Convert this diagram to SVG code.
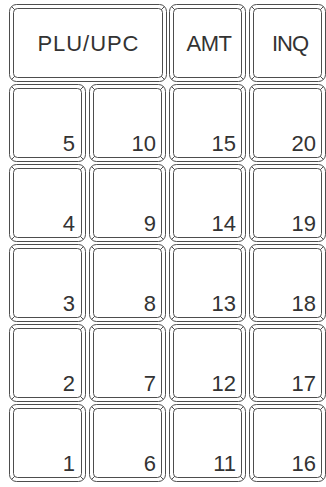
<svg xmlns="http://www.w3.org/2000/svg" xmlns:xlink="http://www.w3.org/1999/xlink" width="326" height="487" viewBox="0 0 326 487">
<style>
.k{fill:#ffffff;stroke:#4d4d4d;stroke-width:1}
.t{font-family:"Liberation Sans",Arial,sans-serif;font-size:22px;fill:#333333}
.c{text-anchor:middle}
.n{text-anchor:end}
</style>
<defs>
<g id="key">
<rect class="k" x="0.5" y="0.5" width="76" height="77" rx="7"/>
<rect class="k" x="4.5" y="4.5" width="68" height="69" rx="4"/>
<path class="k" fill="none" d="M2.5,2.5L5.7,5.7M74.5,2.5L71.3,5.7M2.5,75.5L5.7,72.3M74.5,75.5L71.3,72.3"/>
</g>
<g id="wkey">
<rect class="k" x="0.5" y="0.5" width="157" height="77" rx="7"/>
<rect class="k" x="4.5" y="4.5" width="149" height="69" rx="4"/>
<path class="k" fill="none" d="M2.5,2.5L5.7,5.7M155.5,2.5L152.3,5.7M2.5,75.5L5.7,72.3M155.5,75.5L152.3,72.3"/>
</g>
</defs>
<g id="connectors"/>
<g id="k-plu"><use xlink:href="#wkey" x="9" y="4"/><text class="t c" x="88" y="51" font-size="23" textLength="101">PLU/UPC</text></g>
<g id="k-amt"><use xlink:href="#key" x="169" y="4"/><text class="t c" x="209" y="51" letter-spacing="-0.5">AMT</text></g>
<g id="k-inq"><use xlink:href="#key" x="249" y="4"/><text class="t c" x="290" y="51" letter-spacing="-1">INQ</text></g>
<g id="k5"><use xlink:href="#key" x="9" y="84"/><text class="t n" x="75" y="151">5</text></g>
<g id="k10"><use xlink:href="#key" x="89" y="84"/><text class="t n" x="156" y="151">10</text></g>
<g id="k15"><use xlink:href="#key" x="169" y="84"/><text class="t n" x="236" y="151">15</text></g>
<g id="k20"><use xlink:href="#key" x="249" y="84"/><text class="t n" x="316" y="151">20</text></g>
<g id="k4"><use xlink:href="#key" x="9" y="164"/><text class="t n" x="75" y="231">4</text></g>
<g id="k9"><use xlink:href="#key" x="89" y="164"/><text class="t n" x="156" y="231">9</text></g>
<g id="k14"><use xlink:href="#key" x="169" y="164"/><text class="t n" x="236" y="231">14</text></g>
<g id="k19"><use xlink:href="#key" x="249" y="164"/><text class="t n" x="316" y="231">19</text></g>
<g id="k3"><use xlink:href="#key" x="9" y="244"/><text class="t n" x="75" y="311">3</text></g>
<g id="k8"><use xlink:href="#key" x="89" y="244"/><text class="t n" x="156" y="311">8</text></g>
<g id="k13"><use xlink:href="#key" x="169" y="244"/><text class="t n" x="236" y="311">13</text></g>
<g id="k18"><use xlink:href="#key" x="249" y="244"/><text class="t n" x="316" y="311">18</text></g>
<g id="k2"><use xlink:href="#key" x="9" y="324"/><text class="t n" x="75" y="391">2</text></g>
<g id="k7"><use xlink:href="#key" x="89" y="324"/><text class="t n" x="156" y="391">7</text></g>
<g id="k12"><use xlink:href="#key" x="169" y="324"/><text class="t n" x="236" y="391">12</text></g>
<g id="k17"><use xlink:href="#key" x="249" y="324"/><text class="t n" x="316" y="391">17</text></g>
<g id="k1"><use xlink:href="#key" x="9" y="404"/><text class="t n" x="75" y="471">1</text></g>
<g id="k6"><use xlink:href="#key" x="89" y="404"/><text class="t n" x="156" y="471">6</text></g>
<g id="k11"><use xlink:href="#key" x="169" y="404"/><text class="t n" x="236" y="471">11</text></g>
<g id="k16"><use xlink:href="#key" x="249" y="404"/><text class="t n" x="316" y="471">16</text></g>
</svg>
